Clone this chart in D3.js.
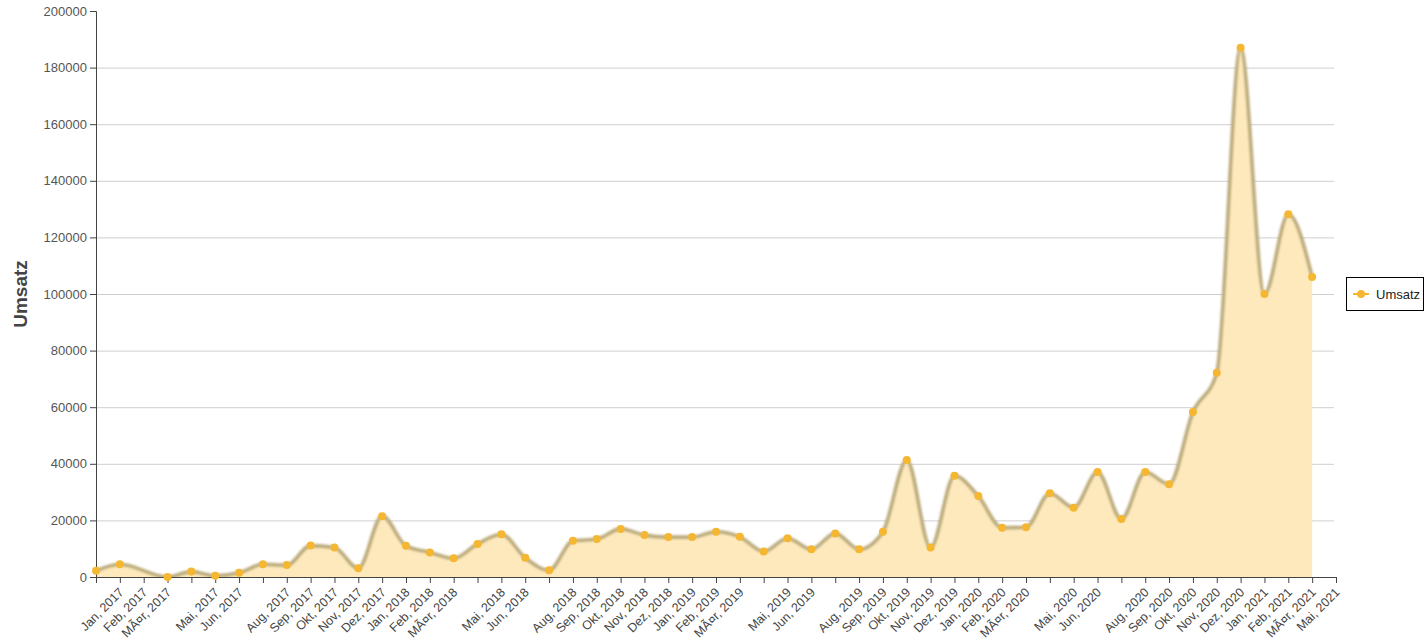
<!DOCTYPE html>
<html>
<head>
<meta charset="utf-8">
<script src="https://cdn.jsdelivr.net/npm/d3@7"></script>
<style>
  html, body { margin: 0; padding: 0; background: #fff; }
  svg { display: block; font-family: "Liberation Sans", Arial, sans-serif; }
</style>
</head>
<body>
<svg id="chart" width="1427" height="643"></svg>
<script>
// ---- data ----
const tickLabels = [
  "",
  "Jan, 2017", "Feb, 2017", "MÃ¤r, 2017", "", "Mai, 2017", "Jun, 2017", "", "Aug, 2017", "Sep, 2017", "Okt, 2017", "Nov, 2017", "Dez, 2017",
  "Jan, 2018", "Feb, 2018", "MÃ¤r, 2018", "", "Mai, 2018", "Jun, 2018", "", "Aug, 2018", "Sep, 2018", "Okt, 2018", "Nov, 2018", "Dez, 2018",
  "Jan, 2019", "Feb, 2019", "MÃ¤r, 2019", "", "Mai, 2019", "Jun, 2019", "", "Aug, 2019", "Sep, 2019", "Okt, 2019", "Nov, 2019", "Dez, 2019",
  "Jan, 2020", "Feb, 2020", "MÃ¤r, 2020", "", "Mai, 2020", "Jun, 2020", "", "Aug, 2020", "Sep, 2020", "Okt, 2020", "Nov, 2020", "Dez, 2020",
  "Jan, 2021", "Feb, 2021", "MÃ¤r, 2021", "Mai, 2021"
];
const umsatz = [
  2200, 4500, null, 0, 1900, 450, 1500, 4500, 4200, 11100, 10400, 3100, 21500,
  11000, 8700, 6600, 11700, 15100, 6800, 2400, 12800, 13400, 17000, 14800, 14100,
  14100, 16000, 14200, 9000, 13700, 9800, 15400, 9800, 16000, 41300, 10400, 35800,
  28600, 17400, 17600, 29600, 24500, 37100, 20500, 37100, 32800, 58300, 72200, 187000,
  100000, 128200, 106000, null
];
const yTicks = [0, 20000, 40000, 60000, 80000, 100000, 120000, 140000, 160000, 180000, 200000];
const seriesName = "Umsatz";
const yAxisTitle = "Umsatz";

// ---- layout ----
const mLeft = 96, mRight = 1336, mTop = 11, mBottom = 577;
const lineColor = "#bcab7c", fillColor = "#fde9bc", pointColor = "#f5b731";

const svg = d3.select("#chart");
const x = d3.scaleLinear().domain([0, tickLabels.length - 1]).range([mLeft, mRight]);
const y = d3.scaleLinear().domain([0, 200000]).range([mBottom, mTop]);

const defs = svg.append("defs");
defs.append("clipPath").attr("id", "clip")
  .append("rect").attr("x", mLeft).attr("y", mTop - 5).attr("width", mRight - mLeft).attr("height", mBottom - mTop + 5);
const f = defs.append("filter").attr("id", "soft").attr("x", "-5%").attr("y", "-5%").attr("width", "110%").attr("height", "110%");
f.append("feGaussianBlur").attr("stdDeviation", 0.9);

// grid
svg.append("g").selectAll("line")
  .data(yTicks.filter(v => v > 0 && v < 200000))
  .join("line")
  .attr("x1", mLeft).attr("x2", mRight - 2)
  .attr("y1", d => y(d) + 0.5).attr("y2", d => y(d) + 0.5)
  .attr("stroke", "#cfcfcf").attr("stroke-width", 1);

const pts = umsatz.map((v, i) => ({ i, v })).filter(d => d.v !== null);

const area = d3.area().x(d => x(d.i)).y0(y(0)).y1(d => y(d.v)).curve(d3.curveMonotoneX);
const line = d3.line().x(d => x(d.i)).y(d => y(d.v)).curve(d3.curveMonotoneX);

const plot = svg.append("g").attr("clip-path", "url(#clip)");
plot.append("path").datum(pts).attr("d", area).attr("fill", fillColor);
plot.append("path").datum(pts).attr("d", line)
  .attr("fill", "none").attr("stroke", lineColor).attr("stroke-width", 3.6)
  .attr("stroke-linejoin", "round").attr("filter", "url(#soft)");

// axes
const xAxis = svg.append("g").attr("transform", `translate(0,${mBottom})`)
  .call(d3.axisBottom(x).tickValues(d3.range(tickLabels.length)).tickFormat(i => tickLabels[i]).tickSize(6).tickSizeOuter(0));
xAxis.select(".domain").attr("stroke", "#444");
xAxis.selectAll(".tick line").attr("stroke", "#444");
xAxis.selectAll(".tick text")
  .attr("x", 0).attr("y", 0).attr("dy", 0)
  .attr("transform", "translate(4,16) rotate(-45)")
  .attr("text-anchor", "end")
  .attr("font-size", 12.5).attr("fill", "#444")
  .attr("font-family", "Liberation Sans, Arial, sans-serif");

const yAxis = svg.append("g").attr("transform", `translate(${mLeft},0)`)
  .call(d3.axisLeft(y).tickValues(yTicks).tickFormat(d3.format("d")).tickSize(6).tickPadding(3));
yAxis.select(".domain").attr("stroke", "#444");
yAxis.selectAll(".tick line").attr("stroke", "#444");
yAxis.selectAll(".tick text").attr("font-size", 13).attr("fill", "#555")
  .attr("font-family", "Liberation Sans, Arial, sans-serif");

// points
svg.append("g").selectAll("circle").data(pts).join("circle")
  .attr("cx", d => x(d.i)).attr("cy", d => y(d.v)).attr("r", 4)
  .attr("fill", pointColor);

// y axis title
svg.append("text")
  .attr("transform", `translate(27,${(mTop + mBottom) / 2}) rotate(-90)`)
  .attr("text-anchor", "middle")
  .attr("font-size", 19).attr("font-weight", "bold").attr("fill", "#444")
  .text(yAxisTitle);

// legend
const lg = svg.append("g");
lg.append("rect").attr("x", 1346.5).attr("y", 277.5).attr("width", 77).attr("height", 33)
  .attr("fill", "#fff").attr("stroke", "#000").attr("stroke-width", 1);
lg.append("line").attr("x1", 1353).attr("x2", 1369).attr("y1", 294).attr("y2", 294)
  .attr("stroke", pointColor).attr("stroke-width", 2);
lg.append("circle").attr("cx", 1361).attr("cy", 294).attr("r", 4).attr("fill", pointColor);
lg.append("text").attr("x", 1376).attr("y", 298.5).attr("font-size", 13).attr("fill", "#222").text(seriesName);
</script>
</body>
</html>
